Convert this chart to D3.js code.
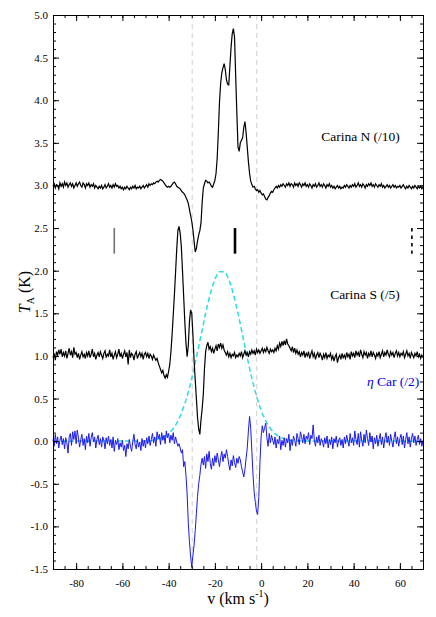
<!doctype html>
<meta charset="utf-8">
<style>
body { margin: 0; background: #fff; }
svg text { font-family: "Liberation Serif", "Times New Roman", "DejaVu Serif", serif; }
.axis path, .axis line { stroke: #000; }
</style>
<body>
<div id="viz"></div>
<script src="https://d3js.org/d3.v7.min.js"></script>
<script>
// velocity grid: -90 .. 70 km/s, 0.5 km/s channels
var vStart = -90, vStep = 0.5;

// Carina N (/10)
var carinaN = [
  2.99,3.02,2.97,3.01,3.00,2.96,3.03,2.99,3.02,2.98, 3.04,3.00,3.03,2.98,3.01,3.03,2.99,3.02,2.97,3.00,
  3.03,2.99,3.02,3.04,3.00,2.98,3.03,3.01,2.97,3.02, 3.00,3.03,2.98,3.01,2.99,3.02,2.97,3.00,2.98,2.96,
  2.99,2.97,3.00,2.96,2.98,3.01,2.97,2.99,3.02,2.98, 3.00,2.97,3.01,2.98,3.02,2.99,3.00,2.97,2.99,2.96,
  2.98,2.95,2.98,2.96,2.99,2.97,2.95,2.98,2.96,2.99, 2.97,3.00,2.96,2.98,2.97,2.99,2.96,2.98,3.00,2.97,
  2.99,3.01,2.98,3.02,3.00,3.02,3.01,3.03,3.02,3.04, 3.05,3.04,3.06,3.07,3.06,3.05,3.03,3.01,2.99,2.98,
  2.99,2.98,2.99,3.01,3.03,3.04,3.02,2.99,2.98,2.97, 2.96,2.94,2.92,2.91,2.89,2.86,2.83,2.79,2.72,2.65,
  2.58,2.48,2.35,2.22,2.26,2.35,2.42,2.47,2.56,2.80, 2.97,3.02,3.06,3.05,3.03,3.04,3.02,2.99,2.98,3.02,
  3.06,3.14,3.32,3.63,3.98,4.20,4.32,4.38,4.43,4.36, 4.24,4.19,4.18,4.40,4.62,4.78,4.84,4.74,4.28,3.85,
  3.45,3.40,3.50,3.53,3.56,3.68,3.75,3.62,3.45,3.28, 3.14,3.05,3.01,2.98,2.99,2.96,2.94,2.95,2.92,2.94,
  2.91,2.89,2.90,2.87,2.84,2.83,2.86,2.88,2.91,2.93, 2.92,2.95,2.97,2.99,2.97,3.00,2.98,3.01,2.99,3.02,
  3.00,2.98,3.02,3.00,3.03,2.99,3.02,3.01,2.98,3.03, 3.00,3.02,2.99,3.03,3.01,2.98,3.02,3.00,3.03,2.99,
  3.01,2.98,3.02,3.00,2.97,3.01,2.99,3.02,2.98,3.00, 3.03,2.99,3.01,2.98,3.02,3.00,2.97,3.01,2.99,3.02,
  2.98,3.00,2.97,2.99,2.96,2.98,3.00,2.97,2.99,2.96, 2.98,2.97,3.00,2.98,3.01,2.99,2.97,3.00,2.98,3.01,
  2.99,3.02,2.98,3.00,3.03,2.99,3.01,2.98,3.02,3.00, 2.97,3.01,2.99,3.02,3.00,3.03,2.99,3.01,2.98,3.02,
  3.00,2.98,3.01,2.99,3.02,2.98,3.00,2.97,2.99,3.01, 2.98,3.00,2.97,2.99,3.01,2.98,3.00,2.97,2.99,2.98,
  3.00,2.97,2.99,3.01,2.98,2.96,2.99,2.97,3.00,2.98, 2.96,2.99,2.97,3.00,2.98,2.96,2.99,2.97,2.99,2.96,
  2.98
];

// Carina S (/5)
var carinaS = [
  0.98,1.03,0.95,1.05,1.01,1.07,1.02,1.08,0.99,1.04, 1.00,1.06,0.97,1.03,1.09,1.01,1.05,0.98,1.10,1.02,
  1.04,0.98,1.03,0.96,1.01,1.05,0.99,1.02,0.97,1.04, 1.00,1.06,0.98,1.02,1.08,0.99,1.03,0.96,1.01,1.04,
  0.99,1.05,1.01,0.97,1.03,1.06,0.98,1.02,1.00,1.07, 0.99,1.03,0.96,1.01,1.05,0.98,1.02,1.08,0.99,1.03,
  0.97,1.02,1.06,0.99,1.04,0.90,1.07,0.98,1.03,1.01, 0.95,1.02,1.05,0.97,1.01,1.04,0.99,1.03,0.96,1.02,
  1.04,0.99,1.03,0.97,1.02,1.00,0.96,1.01,0.98,0.95, 0.97,0.92,0.88,0.84,0.80,0.83,0.77,0.74,0.78,0.75,
  0.82,0.90,1.05,1.25,1.48,1.72,1.98,2.25,2.47,2.52, 2.44,2.28,2.00,1.70,1.40,1.15,0.99,1.12,1.40,1.54,
  1.50,1.25,0.95,0.72,0.50,0.28,0.14,0.08,0.25,0.38, 0.55,0.85,1.05,1.12,1.16,1.08,1.11,1.05,1.09,1.03,
  1.08,1.12,1.06,1.14,1.10,1.15,1.09,1.13,1.07,1.04, 1.01,1.05,0.99,1.03,0.98,1.02,1.00,1.04,0.98,1.01,
  0.99,1.03,1.00,1.05,0.98,1.02,1.06,1.01,1.04,0.99, 1.05,1.02,1.07,1.03,1.06,1.01,1.08,1.04,1.07,1.03,
  1.06,1.09,1.04,1.08,1.05,1.10,1.06,1.03,1.08,1.05, 1.07,1.04,1.09,1.06,1.12,1.08,1.15,1.11,1.17,1.12,
  1.18,1.13,1.20,1.14,1.12,1.09,1.06,1.11,1.04,1.09, 1.03,1.07,1.02,1.05,0.99,1.04,1.01,1.06,0.98,1.03,
  1.00,1.05,0.97,1.02,1.06,0.99,1.03,0.96,1.01,1.04, 0.98,1.03,1.00,0.95,1.02,0.98,1.04,0.97,1.01,0.99,
  1.03,0.96,1.00,0.94,0.99,1.02,0.92,0.98,1.01,0.96, 1.03,0.98,1.01,0.97,1.04,0.99,1.02,0.96,1.05,1.00,
  1.03,0.98,1.06,1.01,1.04,0.99,1.07,1.02,0.98,1.05, 1.01,1.04,0.97,1.03,1.00,1.06,0.99,1.04,1.01,0.97,
  1.03,1.00,1.05,0.98,1.02,1.06,0.99,1.04,1.01,1.07, 1.02,0.99,1.05,1.01,1.04,0.98,1.03,1.06,1.00,1.04,
  0.99,1.03,1.01,1.05,0.98,1.02,1.06,1.00,1.03,0.97, 1.04,1.01,0.98,1.03,1.00,1.05,0.99,1.02,0.97,1.01,
  0.98
];

// eta Car (/2)
var etaCar = [
  0.02,-0.06,0.08,-0.03,0.05,-0.08,0.01,0.06,-0.04,0.03, -0.09,0.04,-0.02,-0.14,0.05,0.09,-0.05,0.11,0.02,0.12,
  -0.03,0.13,0.04,-0.07,0.02,0.08,-0.05,0.03,-0.10,0.06, -0.02,0.09,-0.06,0.04,0.10,-0.01,0.05,-0.08,0.02,0.07,
  -0.04,0.03,-0.07,0.05,0.01,-0.09,0.04,-0.03,0.06,-0.05, 0.02,-0.08,0.05,-0.12,0.01,-0.04,0.03,-0.10,-0.02,-0.07,
  0.01,-0.11,-0.05,-0.18,-0.03,-0.09,0.02,-0.06,-0.12,0.00, 0.08,-0.04,-0.09,0.02,-0.07,-0.01,-0.11,0.03,-0.06,0.01,
  -0.08,0.04,-0.03,0.06,-0.05,0.02,0.09,-0.02,0.05,-0.06, 0.11,0.03,0.08,-0.04,0.10,0.01,0.07,-0.03,0.12,0.04,
  0.09,-0.02,0.07,0.01,0.10,-0.03,0.05,-0.01,-0.06,-0.03, -0.08,-0.14,-0.10,-0.30,-0.24,-0.40,-0.62,-0.95,-1.18,-1.35,
  -1.48,-1.34,-1.22,-1.05,-0.85,-0.65,-0.50,-0.40,-0.27,-0.20, -0.28,-0.18,-0.32,-0.15,-0.24,-0.12,-0.26,-0.33,-0.20,-0.29,
  -0.17,-0.25,-0.14,-0.22,-0.30,-0.19,-0.12,-0.24,-0.15,-0.20, -0.10,-0.18,-0.27,-0.34,-0.22,-0.29,-0.17,-0.25,-0.31,-0.20,
  -0.26,-0.18,-0.22,-0.30,-0.36,-0.42,-0.33,-0.20,-0.08,0.12, 0.29,0.15,-0.12,-0.40,-0.60,-0.72,-0.82,-0.86,-0.65,-0.25,
  0.05,0.18,0.10,0.16,0.21,0.04,-0.06,0.09,-0.02,0.07, 0.01,-0.04,0.05,-0.08,0.02,-0.03,0.06,-0.10,0.01,-0.05,
  0.04,-0.07,0.03,-0.02,0.08,-0.11,0.02,-0.05,0.06,0.01, -0.06,0.09,0.03,-0.04,0.11,0.05,-0.02,0.08,-0.03,0.06,
  0.02,0.10,-0.04,0.07,0.03,0.19,0.01,-0.06,0.05,-0.02, 0.07,-0.05,0.03,0.00,-0.07,0.04,-0.03,0.06,-0.08,0.02,
  -0.04,0.05,-0.09,0.03,-0.02,0.06,-0.07,0.01,0.04,-0.05, 0.02,-0.08,0.05,-0.03,0.07,0.00,-0.06,0.09,-0.02,0.04,
  -0.05,0.12,0.02,-0.04,0.09,-0.07,0.11,0.01,-0.06,0.08, -0.02,0.13,0.03,-0.05,0.10,-0.01,0.06,-0.09,0.04,-0.03,
  0.07,-0.06,0.02,0.09,-0.04,0.05,-0.08,0.03,0.10,-0.02, 0.06,-0.05,0.08,0.00,-0.07,0.04,0.11,-0.03,0.05,-0.06,
  0.03,0.08,-0.04,0.06,-0.08,0.02,0.10,-0.03,0.05,-0.07, 0.04,0.09,-0.02,0.06,-0.05,0.02,0.07,-0.04,0.03,-0.06,
  0.01
];

// cyan dashed model profile
var modelV = [-90,-50,-46,-42,-40,-38,-36,-34,-32,-30,-28,-26,-24,-22,-20,-18,-16,-14,-12,-10,-8,-6,-4,-2,0,2,4,6,8,12,16,70];
var modelT = [0,0.003,0.014,0.050,0.088,0.148,0.237,0.363,0.529,0.737,0.979,1.240,1.498,1.725,1.896,1.988,1.988,1.896,1.725,1.498,1.240,0.979,0.737,0.529,0.363,0.237,0.148,0.088,0.050,0.014,0.003,0];

// reference velocities (dashed grey lines) and markers
var refLines = [-29.8, -1.9];
var markerV = [-63.5, -11.3, 65.2];
var markerStyle = ["grey", "thick", "dashed"];
var markerRange = [2.2, 2.5];

var labels = [
  {text: "Carina N (/10)", v: 60, T: 3.52, color: "#000"},
  {text: "Carina S (/5)", v: 60, T: 1.67, color: "#000"},
  {text: "Car (/2)", v: 50.5, T: 0.65, color: "#0000ee", eta: true}
];

var W = 436, H = 617;
var margin = {top: 15, right: 13, bottom: 48, left: 53};
var serif = "'Liberation Serif', 'Times New Roman', 'DejaVu Serif', serif";
var svg = d3.select("#viz").append("svg").attr("width", W).attr("height", H);
var g = svg.append("g").attr("transform", "translate(" + margin.left + "," + margin.top + ")");
var w = W - margin.left - margin.right, h = H - margin.top - margin.bottom;

var x = d3.scaleLinear().domain([-90, 70]).range([0, w]);
var y = d3.scaleLinear().domain([-1.5, 5.0]).range([h, 0]);

function vel(i) { return vStart + i * vStep; }

// dashed reference lines
g.selectAll(".ref").data(refLines).enter().append("line")
  .attr("x1", d => x(d)).attr("x2", d => x(d)).attr("y1", 0).attr("y2", h)
  .attr("stroke", "#cfcfcf").attr("stroke-width", 1).attr("stroke-dasharray", "5,4");

// markers
g.selectAll(".mark").data(markerV).enter().append("line")
  .attr("x1", d => x(d)).attr("x2", d => x(d))
  .attr("y1", y(markerRange[1])).attr("y2", y(markerRange[0]))
  .attr("stroke", (d, i) => markerStyle[i] == "grey" ? "#707070" : "#000")
  .attr("stroke-width", (d, i) => markerStyle[i] == "thick" ? 2.6 : 1.6)
  .attr("stroke-dasharray", (d, i) => markerStyle[i] == "dashed" ? "3.5,4" : null);

// model
var modelLine = d3.line().x((d, i) => x(modelV[i])).y(d => y(d)).curve(d3.curveMonotoneX);
g.append("path").attr("d", modelLine(modelT)).attr("fill", "none")
  .attr("stroke", "#22e0e8").attr("stroke-width", 1.5).attr("stroke-dasharray", "5,3");

var line = d3.line().x((d, i) => x(vel(i))).y(d => y(d));
g.append("path").attr("d", line(etaCar)).attr("fill", "none").attr("stroke", "#1a1aee").attr("stroke-width", 1);
g.append("path").attr("d", line(carinaS)).attr("fill", "none").attr("stroke", "#000").attr("stroke-width", 1.2);
g.append("path").attr("d", line(carinaN)).attr("fill", "none").attr("stroke", "#000").attr("stroke-width", 1.2);

// labels
labels.forEach(function(l) {
  var t = g.append("text").attr("x", x(l.v)).attr("y", y(l.T)).attr("font-family", serif)
    .attr("text-anchor", l.eta ? "start" : "end").attr("font-size", 13.5).attr("fill", l.color);
  if (l.eta) {
    t.attr("x", x(l.v) - 11);
    t.append("tspan").attr("font-style", "italic").text("η");
    t.append("tspan").text(" " + l.text);
  } else {
    t.text(l.text);
  }
});

// axes: major + minor ticks, inward, all four sides
var xMaj = d3.range(-80, 61, 20), xMin = d3.range(-90, 71, 5);
var yMaj = d3.range(-1.5, 5.01, 0.5), yMin = d3.range(-1.5, 5.01, 0.1);

g.append("g").attr("class", "axis").attr("transform", "translate(0," + h + ")")
  .call(d3.axisBottom(x).tickValues(xMin).tickSize(-3).tickFormat(""));
g.append("g").attr("class", "axis").attr("transform", "translate(0," + h + ")")
  .call(d3.axisBottom(x).tickValues(xMaj).tickSize(-6).tickPadding(10).tickFormat(d3.format("d")))
  .call(a => a.select(".domain").remove());
g.append("g").attr("class", "axis")
  .call(d3.axisTop(x).tickValues(xMin).tickSize(-3).tickFormat(""));
g.append("g").attr("class", "axis")
  .call(d3.axisTop(x).tickValues(xMaj).tickSize(-6).tickFormat(""))
  .call(a => a.select(".domain").remove());

g.append("g").attr("class", "axis")
  .call(d3.axisLeft(y).tickValues(yMin).tickSize(-3).tickFormat(""));
g.append("g").attr("class", "axis")
  .call(d3.axisLeft(y).tickValues(yMaj).tickSize(-6).tickPadding(5).tickFormat(d3.format(".1f")))
  .call(a => a.select(".domain").remove());
g.append("g").attr("class", "axis").attr("transform", "translate(" + w + ",0)")
  .call(d3.axisRight(y).tickValues(yMin).tickSize(-3).tickFormat(""));
g.append("g").attr("class", "axis").attr("transform", "translate(" + w + ",0)")
  .call(d3.axisRight(y).tickValues(yMaj).tickSize(-6).tickFormat(""))
  .call(a => a.select(".domain").remove());

g.selectAll(".axis").attr("font-family", serif);
g.selectAll(".axis text").attr("font-size", 11).attr("fill", "#000")
  .text(function() { return this.textContent.replace("−", "-"); });

// axis titles
var xt = svg.append("text").attr("x", margin.left + w / 2).attr("y", 604).attr("font-family", serif)
  .attr("text-anchor", "middle").attr("font-size", 16);
xt.append("tspan").text("v (km s");
xt.append("tspan").attr("font-size", 10).attr("dy", -7).text("-1");
xt.append("tspan").attr("dy", 7).text(")");

var yt = svg.append("text").attr("transform", "translate(30," + (margin.top + h / 2) + ") rotate(-90)")
  .attr("font-family", serif).attr("text-anchor", "middle").attr("font-size", 16);
yt.append("tspan").attr("font-style", "italic").text("T");
yt.append("tspan").attr("font-size", 10).attr("dy", 4).text("A");
yt.append("tspan").attr("dy", -4).text(" (K)");
</script>
</body>
</html>
